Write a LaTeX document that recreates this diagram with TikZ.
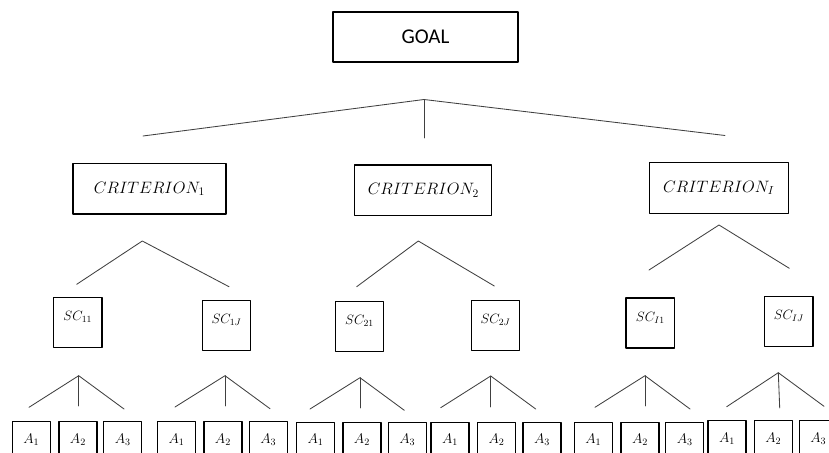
\RequirePackage{fix-cm}
\documentclass[tikz,border=0pt]{standalone}
\usepackage{fontspec}
\newfontfamily\goalfont{Carlito}

\begin{document}
\begin{tikzpicture}[line cap=round,line join=round,x=1pt,y=-1pt,
  box/.style={draw=black,line width=1.2pt,inner sep=0pt},
  goalbox/.style={box,minimum width=185pt,minimum height=50pt,font=\goalfont\fontsize{21}{25}\selectfont},
  critbox/.style={box,minimum height=50.5pt,font=\fontsize{16.5}{20}\selectfont},
  subbox/.style={box,minimum width=48.5pt,minimum height=50pt,text height=8pt,text depth=12pt,font=\fontsize{13.5}{16}\selectfont},
  altbox/.style={box,anchor=north,minimum width=38pt,minimum height=36pt,font=\fontsize{14}{17}\selectfont},
  fan/.style={draw=black!75,line width=0.85pt}]
\useasboundingbox (0,0) rectangle (829,452);
\clip (0,0) rectangle (829,452);
% goal
\node[goalbox] (goal) at (425.5,37) {GOAL};
\path (424,99.5) coordinate (t) (143,136) coordinate (tl) (424,138) coordinate (tm) (725,135.5) coordinate (tr);
\draw[fan] (tl) -- (t) -- (tr);
\draw[fan] (t) -- (tm);
% criteria
\node[critbox,minimum width=153pt] (crit1) at (149.4,188.8) {$CRITERION_1$};
\node[critbox,minimum width=137pt] (crit2) at (423.3,190.3) {$CRITERION_2$};
\node[critbox,minimum width=139pt] (critI) at (718.8,188) {$CRITERION_I$};
\path (142.3,241) coordinate (c1) (76.7,284.3) coordinate (c1l) (229,286.7) coordinate (c1r);
\path (418.3,241) coordinate (c2) (356.7,286.7) coordinate (c2l) (494.3,286) coordinate (c2r);
\path (719,225) coordinate (cI) (649,270) coordinate (cIl) (789.3,268.3) coordinate (cIr);
\draw[fan] (c1l) -- (c1) -- (c1r);
\draw[fan] (c2l) -- (c2) -- (c2r);
\draw[fan] (cIl) -- (cI) -- (cIr);
% sub-criteria
\node[subbox] (sc11) at (77.7,322.7) {$SC_{11}$};
\node[subbox] (sc1J) at (226.5,325.8) {$SC_{1J}$};
\node[subbox] (sc21) at (359.5,326.2) {$SC_{21}$};
\node[subbox] (sc2J) at (495.5,325.5) {$SC_{2J}$};
\node[subbox] (scI1) at (650.3,323) {$SC_{I1}$};
\node[subbox] (scIJ) at (788.8,321.7) {$SC_{IJ}$};
\path (78.7,375.7) coordinate (f11) (29,407.3) coordinate (f11l) (78.7,406) coordinate (f11m) (124,409) coordinate (f11r);
\path (225,375.7) coordinate (f1J) (175,407) coordinate (f1Jl) (225,406) coordinate (f1Jm) (270,408.7) coordinate (f1Jr);
\path (360,377.7) coordinate (f21) (310,409) coordinate (f21l) (360,408) coordinate (f21m) (404.3,410.3) coordinate (f21r);
\path (490.7,376) coordinate (f2J) (440.7,407.7) coordinate (f2Jl) (490.7,407) coordinate (f2Jm) (535.7,409) coordinate (f2Jr);
\path (645,375.7) coordinate (fI1) (595,407.3) coordinate (fI1l) (645,406) coordinate (fI1m) (690,409) coordinate (fI1r);
\path (778.3,372.7) coordinate (fIJ) (726.7,406.7) coordinate (fIJl) (779.7,408) coordinate (fIJm) (824,406.3) coordinate (fIJr);
\draw[fan] (f11l) -- (f11) -- (f11r);
\draw[fan] (f11) -- (f11m);
\draw[fan] (f1Jl) -- (f1J) -- (f1Jr);
\draw[fan] (f1J) -- (f1Jm);
\draw[fan] (f21l) -- (f21) -- (f21r);
\draw[fan] (f21) -- (f21m);
\draw[fan] (f2Jl) -- (f2J) -- (f2Jr);
\draw[fan] (f2J) -- (f2Jm);
\draw[fan] (fI1l) -- (fI1) -- (fI1r);
\draw[fan] (fI1) -- (fI1m);
\draw[fan] (fIJl) -- (fIJ) -- (fIJr);
\draw[fan] (fIJ) -- (fIJm);
% alternatives
\node[altbox] (a11) at (31.2,421) {$A_1$};
\node[altbox] (a12) at (77.9,421) {$A_2$};
\node[altbox] (a13) at (122.8,421) {$A_3$};
\node[altbox] (a21) at (176.5,421) {$A_1$};
\node[altbox] (a22) at (222.9,421) {$A_2$};
\node[altbox] (a23) at (268.3,421) {$A_3$};
\node[altbox] (a31) at (315.5,421.5) {$A_1$};
\node[altbox] (a32) at (361.9,421.5) {$A_2$};
\node[altbox] (a33) at (407.2,421.5) {$A_3$};
\node[altbox] (a41) at (450,421.5) {$A_1$};
\node[altbox] (a42) at (496.5,421.5) {$A_2$};
\node[altbox] (a43) at (542,421.5) {$A_3$};
\node[altbox] (a51) at (593.3,421.5) {$A_1$};
\node[altbox] (a52) at (639.9,421.5) {$A_2$};
\node[altbox] (a53) at (684.7,421.5) {$A_3$};
\node[altbox] (a61) at (727,420) {$A_1$};
\node[altbox] (a62) at (773.2,420) {$A_2$};
\node[altbox] (a63) at (818.3,420) {$A_3$};
\end{tikzpicture}
\end{document}
